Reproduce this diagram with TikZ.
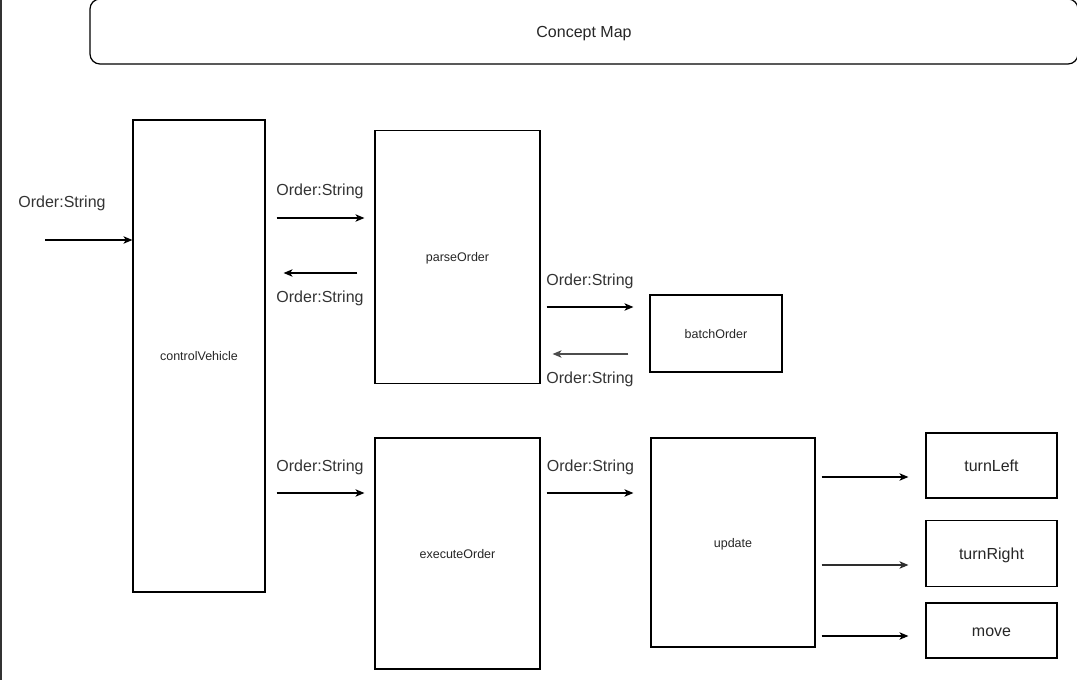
\documentclass[tikz,border=0pt]{standalone}
\usepackage{fontspec}
\setmainfont{Liberation Sans}
\usetikzlibrary{arrows.meta}
\newcommand{\boxLine}[0]{1.2pt}
\newcommand{\flowText}[0]{Order:String}
\newcommand{\labelSize}[0]{\fontsize{16}{19}\selectfont}
\newcommand{\boxSize}[0]{\fontsize{12.5}{15}\selectfont}

\begin{document}
\begin{tikzpicture}[x=1pt, y=-1pt]
  \tikzset{
    block/.style={draw, line width=\boxLine, rectangle, align=center, inner sep=0pt, text height=9pt, text depth=0pt, font=\boxSize, text=black!85},
    bigblock/.style={block, font=\labelSize, text height=11.6pt},
    flow/.style={line width=1.1pt, -{Stealth[length=9pt, width=7.5pt, inset=2.5pt]}},
    flowtext/.style={font=\labelSize, text=black!80, inner sep=0pt, text height=11.6pt, text depth=0pt}
  }
  \useasboundingbox (0,0) rectangle (1077,680);
  \draw[line width=2pt, black!80] (1,0) -- (1,680);
  \node[bigblock, rounded corners=10pt, minimum width=988pt, minimum height=65pt] (title) at (584,31.5) {Concept Map};
  \node[block, minimum width=132pt, minimum height=472pt] (control) at (199,356) {controlVehicle};
  \node[block, minimum width=165pt, minimum height=253pt] (parse) at (457.5,257) {parseOrder};
  \node[block, minimum width=132pt, minimum height=77pt] (batch) at (716,333.5) {batchOrder};
  \node[block, minimum width=165pt, minimum height=231pt] (execute) at (457.5,553.5) {executeOrder};
  \node[block, minimum width=164pt, minimum height=209pt] (update) at (733,542.5) {update};
  \node[bigblock, minimum width=131pt, minimum height=65pt] (left) at (991.5,465.5) {turnLeft};
  \node[bigblock, minimum width=131pt, minimum height=66pt] (right) at (991.5,553.5) {turnRight};
  \node[bigblock, minimum width=131pt, minimum height=55pt] (move) at (991.5,630.5) {move};
  \coordinate (input) at (45,240);
  \node[flowtext] (input-text) at (62,202) {\flowText};
  \draw[flow] (input) -- (input -| control.west);
  \draw[flow, shorten <=11pt, shorten >=10pt] ([yshift=39pt]parse.west -| control.east) -- node[flowtext, midway, yshift=28pt] (to-parse-text) {\flowText} ([yshift=39pt]parse.west);
  \draw[flow, shorten <=17pt, shorten >=18pt] ([yshift=-16pt]parse.west) -- node[flowtext, midway, yshift=-24pt] (from-parse-text) {\flowText} ([yshift=-16pt]parse.west -| control.east);
  \draw[flow, shorten <=6pt, shorten >=16pt] ([yshift=26.5pt]batch.west -| parse.east) -- node[flowtext, midway, xshift=-5pt, yshift=27pt] (to-batch-text) {\flowText} ([yshift=26.5pt]batch.west);
  \draw[flow, black!70, shorten <=21pt, shorten >=12pt] ([yshift=-20.5pt]batch.west) -- node[flowtext, midway, xshift=-5pt, yshift=-24pt] (from-batch-text) {\flowText} ([yshift=-20.5pt]batch.west -| parse.east);
  \draw[flow, shorten <=11pt, shorten >=10pt] ([yshift=60.5pt]execute.west -| control.east) -- node[flowtext, midway, yshift=27pt] (to-execute-text) {\flowText} ([yshift=60.5pt]execute.west);
  \draw[flow, shorten <=6pt, shorten >=17pt] ([yshift=49.5pt]update.west -| execute.east) -- node[flowtext, midway, xshift=-5pt, yshift=27pt] (to-update-text) {\flowText} ([yshift=49.5pt]update.west);
  \draw[flow, shorten <=6pt, shorten >=17pt] ([yshift=-11.5pt]left.west -| update.east) -- ([yshift=-11.5pt]left.west);
  \draw[flow, black!82, shorten <=6pt, shorten >=17pt] ([yshift=-11.5pt]right.west -| update.east) -- ([yshift=-11.5pt]right.west);
  \draw[flow, shorten <=6pt, shorten >=17pt] ([yshift=-5.5pt]move.west -| update.east) -- ([yshift=-5.5pt]move.west);
\end{tikzpicture}
\end{document}
